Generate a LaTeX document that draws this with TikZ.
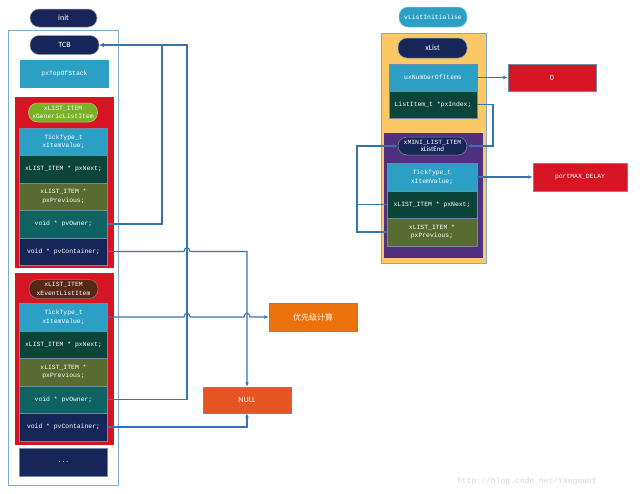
\documentclass[tikz,border=0pt]{standalone}
\usepackage{fontspec}
\setmainfont{Carlito}
\setsansfont{Carlito}
\setmonofont{Liberation Mono}
\newfontfamily\cjk{Noto Sans CJK SC}
\usetikzlibrary{arrows.meta}
\definecolor{lblue}{RGB}{43,160,196}
\definecolor{dkgreen}{RGB}{12,68,58}
\definecolor{olive}{RGB}{88,107,48}
\definecolor{teal}{RGB}{14,98,98}
\definecolor{navy}{RGB}{22,38,88}
\definecolor{redbox}{RGB}{215,20,35}
\definecolor{yellowbox}{RGB}{250,200,100}
\definecolor{purplebox}{RGB}{82,48,128}
\definecolor{greenpill}{RGB}{122,178,38}
\definecolor{brownpill}{RGB}{88,40,22}
\definecolor{outerc}{RGB}{130,170,210}
\definecolor{rowline}{RGB}{110,140,160}
\definecolor{conn}{RGB}{55,115,175}
\definecolor{orangebox}{RGB}{237,113,10}
\definecolor{nullbox}{RGB}{228,85,35}
\newcommand\mycode{\ttfamily\fontsize{6.4}{8.5}\selectfont}
\newcommand\mysans{\sffamily\fontsize{8}{9}\selectfont}
\tikzset{
  row/.style={inner sep=0pt, align=center, text=white, font=\mycode, draw=rowline, line width=0.4pt, minimum width=88pt, minimum height=27.5pt},
  pill/.style={inner sep=0pt, align=center, text=white, font=\mycode, rounded corners=9pt, minimum width=69pt, minimum height=19pt, draw=white!55!navy, line width=0.5pt},
  frame/.style={inner sep=0pt, line width=0.5pt},
  conn/.style={draw=conn, line width=1.1pt},
  arr/.style={conn, -{Latex[length=4.5pt,width=3.8pt]}},
}
\begin{document}
\begin{tikzpicture}[x=1pt,y=-1pt]
\useasboundingbox (0,0) rectangle (640,493);
% ---------- left structure ----------
\node[pill, fill=navy, font=\mysans, minimum width=67pt, minimum height=18pt] (init) at (63.5,18) {init};
\node[frame, draw=outerc, minimum width=110pt, minimum height=455pt] (outer) at (63,257.5) {};
\node[pill, fill=navy, font=\mysans] (tcb) at (64.5,45) {TCB};
\node[row, fill=lblue, minimum width=89pt, minimum height=28pt, draw=none] (stack) at (64.5,74) {pxTopOfStack};
% first list item
\node[frame, fill=redbox, minimum width=99pt, minimum height=171pt] (red1) at (64.5,182.5) {};
\node[pill, fill=greenpill, draw=white!40!greenpill] (gen) at (63,112.5) {xLIST\_ITEM\\xGenericListItem};
\node[row, fill=lblue] (tv1) at (63.5,141.5) {TickType\_t\\xItemValue;};
\node[row, fill=dkgreen] (nx1) at (63.5,169) {xLIST\_ITEM * pxNext;};
\node[row, fill=olive] (pv1) at (63.5,196.5) {xLIST\_ITEM *\\pxPrevious;};
\node[row, fill=teal] (ow1) at (63.5,224) {void * pvOwner;};
\node[row, fill=navy] (pc1) at (63.5,251.5) {void * pvContainer;};
% second list item
\node[frame, fill=redbox, minimum width=99pt, minimum height=172pt] (red2) at (64.5,359) {};
\node[pill, fill=brownpill, draw=white!40!brownpill] (evt) at (63.5,289) {xLIST\_ITEM\\xEventListItem};
\node[row, fill=lblue] (tv2) at (63.5,317) {TickType\_t\\xItemValue;};
\node[row, fill=dkgreen] (nx2) at (63.5,344.5) {xLIST\_ITEM * pxNext;};
\node[row, fill=olive] (pv2) at (63.5,372) {xLIST\_ITEM *\\pxPrevious;};
\node[row, fill=teal] (ow2) at (63.5,399.5) {void * pvOwner;};
\node[row, fill=navy] (pc2) at (63.5,427) {void * pvContainer;};
\node[row, fill=navy, minimum height=28pt] (dots) at (63.5,462) {...};
% targets
\node[row, fill=orangebox, font=\cjk\fontsize{8}{9}\selectfont, minimum height=28pt] (prio) at (313,317) {优先级计算};
\node[row, fill=nullbox, font=\mysans, minimum height=26pt] (null) at (247,400) {NULL};
% ---------- right structure ----------
\node[pill, fill=lblue, draw=white!40!lblue, minimum width=68pt, minimum height=20pt] (vli) at (433,17) {vListInitialise};
\node[frame, fill=yellowbox, draw=outerc, minimum width=105pt, minimum height=230pt] (yel) at (433.5,148) {};
\node[pill, fill=navy, font=\mysans, minimum height=20pt] (xlist) at (432.5,48) {xList};
\node[row, fill=lblue] (num) at (433,77.5) {uxNumberOfItems};
\node[row, fill=dkgreen] (idx) at (433,104.5) {ListItem\_t *pxIndex;};
\node[frame, fill=purplebox, minimum width=99pt, minimum height=125pt] (pur) at (433.5,195.5) {};
\node[pill, fill=navy, draw=white!45!navy, minimum height=18pt, font=\sffamily\fontsize{7}{7.5}\selectfont] (end) at (432.5,146) {\mycode xMINI\_LIST\_ITEM\\xListEnd};
\node[row, fill=lblue, minimum width=90pt] (tvr) at (432,177) {TickType\_t\\xItemValue;};
\node[row, fill=dkgreen, minimum width=90pt] (nxr) at (432,204.5) {xLIST\_ITEM * pxNext;};
\node[row, fill=olive, minimum width=90pt] (pvr) at (432,232) {xLIST\_ITEM *\\pxPrevious;};
\node[row, fill=redbox, font=\mysans] (zero) at (552,77.5) {0};
\node[row, fill=redbox, minimum width=94pt, minimum height=28pt] (maxd) at (580,177) {portMAX\_DELAY};
% watermark
\node[text=black!16, font=\ttfamily\fontsize{8}{8}\selectfont, inner sep=0pt] (wm) at (527,481) {http://blog.csdn.net/Yangquot};
% ---------- connectors ----------
\draw[arr] (ow1.east) -- (162,224) -- (162,45) -- (tcb.east);
\draw[arr] (ow2.east) -- (187,399.5) -- (187,45) -- (tcb.east);
\draw[arr] (pc1.east) -- (184,251.5) .. controls (184,246.5) and (190,246.5) .. (190,251.5) -- (247,251.5) -- (null.north);
\draw[arr] (tv2.east) -- (184,317) .. controls (184,312) and (190,312) .. (190,317) -- (244,317) .. controls (244,312) and (250,312) .. (250,317) -- (prio.west);
\draw[arr] (pc2.east) -- (247,427) -- (null.south);
\draw[arr] (num.east) -- (zero.west);
\draw[arr] (idx.east) -- (493,104.5) -- (493,146) -- (end.east);
\draw[arr] (tvr.east) -- (maxd.west);
\draw[arr] (nxr.west) -- (357,204.5) -- (357,146) -- (end.west);
\draw[conn] (pvr.west) -- (357,232) -- (357,204.5);
\end{tikzpicture}
\end{document}
